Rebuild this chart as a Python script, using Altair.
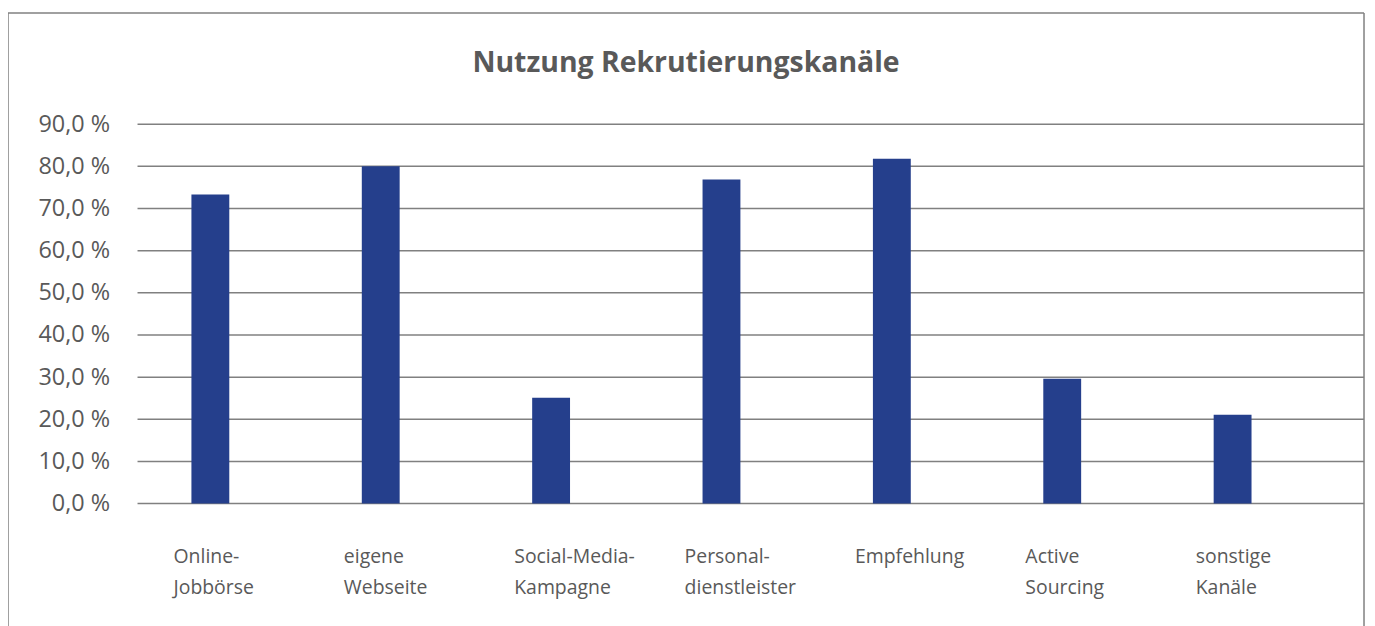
import altair as alt
import pandas as pd

# ---- data ----
categories = ["Online-\nJobbörse", "eigene\nWebseite", "Social-Media-\nKampagne",
              "Personal-\ndienstleister", "Empfehlung", "Active\nSourcing", "sonstige\nKanäle"]
values = [73.3, 80.0, 25.1, 76.9, 81.8, 29.6, 21.1]
tick_values = [0, 10, 20, 30, 40, 50, 60, 70, 80, 90]
title_text = "Nutzung Rekrutierungskanäle"

df = pd.DataFrame({"kanal": categories, "anteil": values})
grid_df = pd.DataFrame({"tick": tick_values})

# ---- style ----
W, H = 1197.0, 380.8
TEXT = "#595959"
LINE = "#808080"
BAR = "#253F8C"
FONT = "Open Sans"

y_scale = alt.Scale(domain=[0, 90], nice=False, zero=True)
y_axis = alt.Axis(values=tick_values, title=None, grid=False, domain=False, ticks=False,
                  labelExpr="replace(format(datum.value, '.1f'), '.', ',') + ' %'",
                  labelFont=FONT, labelFontSize=23.5, labelColor=TEXT, labelPadding=15.6,
                  labelBaseline="middle")

grid = alt.Chart(grid_df).mark_rule(color=LINE, strokeWidth=1.5).encode(
    y=alt.Y("tick:Q", scale=y_scale, axis=y_axis),
    x=alt.value(12.4), x2=alt.value(1243.4),
)

bars = alt.Chart(df).mark_bar(size=38, color=BAR).encode(
    x=alt.X("kanal:N", sort=categories,
            scale=alt.Scale(paddingInner=0, paddingOuter=0),
            axis=alt.Axis(title=None, labelExpr="split(datum.label, '\\n')",
                          labelAlign="left", labelOffset=-37, labelPadding=44.5,
                          ticks=False, domain=False, labelAngle=0,
                          labelLineHeight=31, labelFont=FONT, labelFontSize=19.5,
                          labelColor=TEXT, labelBaseline="top")),
    y=alt.Y("anteil:Q", scale=y_scale, axis=y_axis),
)

one = alt.Data(values=[{"k": 1}])
border_left = alt.Chart(one).mark_rule(color=LINE, strokeWidth=1.5).encode(
    x=alt.value(-117.6), y=alt.value(-111.5), y2=alt.value(510))
border_top = alt.Chart(one).mark_rule(color=LINE, strokeWidth=1.5).encode(
    x=alt.value(-117.6), x2=alt.value(1243.4), y=alt.value(-111.5))
border_right = alt.Chart(one).mark_rule(color=LINE, strokeWidth=1.5).encode(
    x=alt.value(1243.4), y=alt.value(-111.5), y2=alt.value(510))

title = alt.Chart(alt.Data(values=[{"t": title_text}])).mark_text(
    font=FONT, fontSize=28.5, fontWeight="bold", color=TEXT,
    align="center", baseline="middle").encode(
    text="t:N", x=alt.value(562.9), y=alt.value(-61.5))

chart = alt.layer(border_left, border_top, border_right, grid, bars, title).properties(
    width=W, height=H,
    padding={"left": 117.6, "top": 115.5, "right": 49.4, "bottom": 121.7},
    autosize=alt.AutoSizeParams(type="none"),
).configure_view(stroke=None)

chart.save("out.html", embed_options={"renderer": "svg", "actions": False})
